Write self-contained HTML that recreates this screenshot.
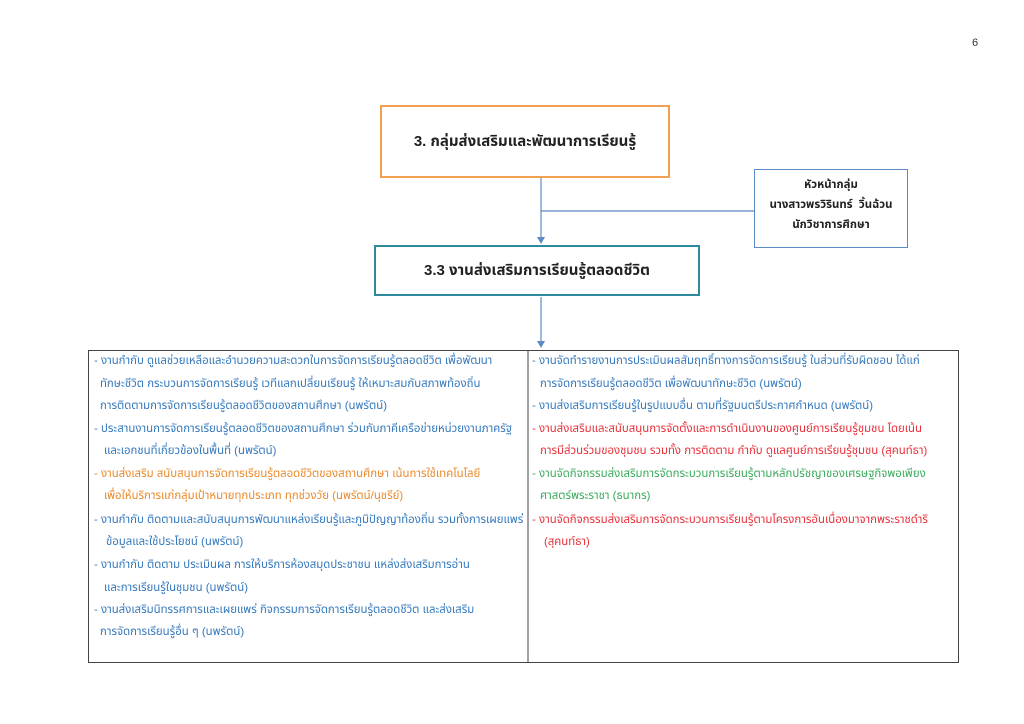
<!DOCTYPE html>
<html><head><meta charset="utf-8"><style>
body{margin:0;width:1024px;height:724px;background:#fff;position:relative;overflow:hidden;font-family:"Liberation Sans","Noto Sans Thai","Tlwg Typist","Loma",sans-serif;}
.a{position:absolute;}
.l{position:absolute;white-space:nowrap;font-size:11.4px;line-height:14px;}
.b{color:#3579bd}.o{color:#ea8a2a}.r{color:#e8303a}.g{color:#3aaa5c}
</style></head><body>
<div class="a" style="left:972px;top:37px;font-size:11px;color:#333">6</div>
<div class="a" style="left:380px;top:105px;width:286px;height:69px;border:2px solid #f0a050;display:flex;align-items:center;justify-content:center;font-size:15px;font-weight:bold;color:#222">3. กลุ่มส่งเสริมและพัฒนาการเรียนรู้</div>
<div class="a" style="left:754px;top:169px;width:154px;height:79px;border:1.5px solid #5b8ac6;text-align:center;font-size:11.4px;font-weight:bold;color:#222;line-height:20px;padding-top:5px;box-sizing:border-box;">หัวหน้ากลุ่ม<br>นางสาวพรวิรินทร์&nbsp; วิ้นฉ้วน<br>นักวิชาการศึกษา</div>
<div class="a" style="left:374px;top:245px;width:322px;height:47px;border:2.5px solid #2e8a9c;display:flex;align-items:center;justify-content:center;font-size:15px;font-weight:bold;color:#222">3.3 งานส่งเสริมการเรียนรู้ตลอดชีวิต</div>
<svg class="a" style="left:0;top:0" width="1024" height="724">
<line x1="541" y1="178" x2="541" y2="238" stroke="#5b8ac6" stroke-width="1.2"/>
<line x1="541" y1="211" x2="754" y2="211" stroke="#5b8ac6" stroke-width="1.2"/>
<polygon points="537,237 545,237 541,244" fill="#5b8ac6"/>
<line x1="541" y1="297" x2="541" y2="342" stroke="#5b8ac6" stroke-width="1.2"/>
<polygon points="537,341 545,341 541,348" fill="#5b8ac6"/>
<rect x="88.5" y="350.5" width="870" height="312" fill="none" stroke="#444" stroke-width="1"/>
<line x1="528" y1="350" x2="528" y2="662" stroke="#444" stroke-width="1"/>
</svg>
<div class="l b" style="left:94px;top:354px">- งานกำกับ ดูแลช่วยเหลือและอำนวยความสะดวกในการจัดการเรียนรู้ตลอดชีวิต เพื่อพัฒนา</div>
<div class="l b" style="left:100px;top:377px">ทักษะชีวิต กระบวนการจัดการเรียนรู้ เวทีแลกเปลี่ยนเรียนรู้ ให้เหมาะสมกับสภาพท้องถิ่น</div>
<div class="l b" style="left:100px;top:399px">การติดตามการจัดการเรียนรู้ตลอดชีวิตของสถานศึกษา (นพรัตน์)</div>
<div class="l b" style="left:94px;top:422px">- ประสานงานการจัดการเรียนรู้ตลอดชีวิตของสถานศึกษา ร่วมกับภาคีเครือข่ายหน่วยงานภาครัฐ</div>
<div class="l b" style="left:104px;top:444px">และเอกชนที่เกี่ยวข้องในพื้นที่ (นพรัตน์)</div>
<div class="l o" style="left:94px;top:467px">- งานส่งเสริม สนับสนุนการจัดการเรียนรู้ตลอดชีวิตของสถานศึกษา เน้นการใช้เทคโนโลยี</div>
<div class="l o" style="left:104px;top:489px">เพื่อให้บริการแก่กลุ่มเป้าหมายทุกประเภท ทุกช่วงวัย (นพรัตน์/นุชรีย์)</div>
<div class="l b" style="left:94px;top:513px">- งานกำกับ ติดตามและสนับสนุนการพัฒนาแหล่งเรียนรู้และภูมิปัญญาท้องถิ่น รวมทั้งการเผยแพร่</div>
<div class="l b" style="left:106px;top:535px">ข้อมูลและใช้ประโยชน์ (นพรัตน์)</div>
<div class="l b" style="left:94px;top:558px">- งานกำกับ ติดตาม ประเมินผล การให้บริการห้องสมุดประชาชน แหล่งส่งเสริมการอ่าน</div>
<div class="l b" style="left:104px;top:581px">และการเรียนรู้ในชุมชน (นพรัตน์)</div>
<div class="l b" style="left:94px;top:603px">- งานส่งเสริมนิทรรศการและเผยแพร่ กิจกรรมการจัดการเรียนรู้ตลอดชีวิต และส่งเสริม</div>
<div class="l b" style="left:100px;top:625px">การจัดการเรียนรู้อื่น ๆ (นพรัตน์)</div>
<div class="l b" style="left:532px;top:354px">- งานจัดทำรายงานการประเมินผลสัมฤทธิ์ทางการจัดการเรียนรู้ ในส่วนที่รับผิดชอบ ได้แก่</div>
<div class="l b" style="left:540px;top:377px">การจัดการเรียนรู้ตลอดชีวิต เพื่อพัฒนาทักษะชีวิต (นพรัตน์)</div>
<div class="l b" style="left:532px;top:399px">- งานส่งเสริมการเรียนรู้ในรูปแบบอื่น ตามที่รัฐมนตรีประกาศกำหนด (นพรัตน์)</div>
<div class="l r" style="left:532px;top:422px">- งานส่งเสริมและสนับสนุนการจัดตั้งและการดำเนินงานของศูนย์การเรียนรู้ชุมชน โดยเน้น</div>
<div class="l r" style="left:540px;top:444px">การมีส่วนร่วมของชุมชน รวมทั้ง การติดตาม กำกับ ดูแลศูนย์การเรียนรู้ชุมชน (สุคนท์ธา)</div>
<div class="l g" style="left:532px;top:467px">- งานจัดกิจกรรมส่งเสริมการจัดกระบวนการเรียนรู้ตามหลักปรัชญาของเศรษฐกิจพอเพียง</div>
<div class="l g" style="left:540px;top:489px">ศาสตร์พระราชา (ธนากร)</div>
<div class="l r" style="left:532px;top:513px">- งานจัดกิจกรรมส่งเสริมการจัดกระบวนการเรียนรู้ตามโครงการอันเนื่องมาจากพระราชดำริ</div>
<div class="l r" style="left:544px;top:535px">(สุคนท์ธา)</div>
</body></html>
